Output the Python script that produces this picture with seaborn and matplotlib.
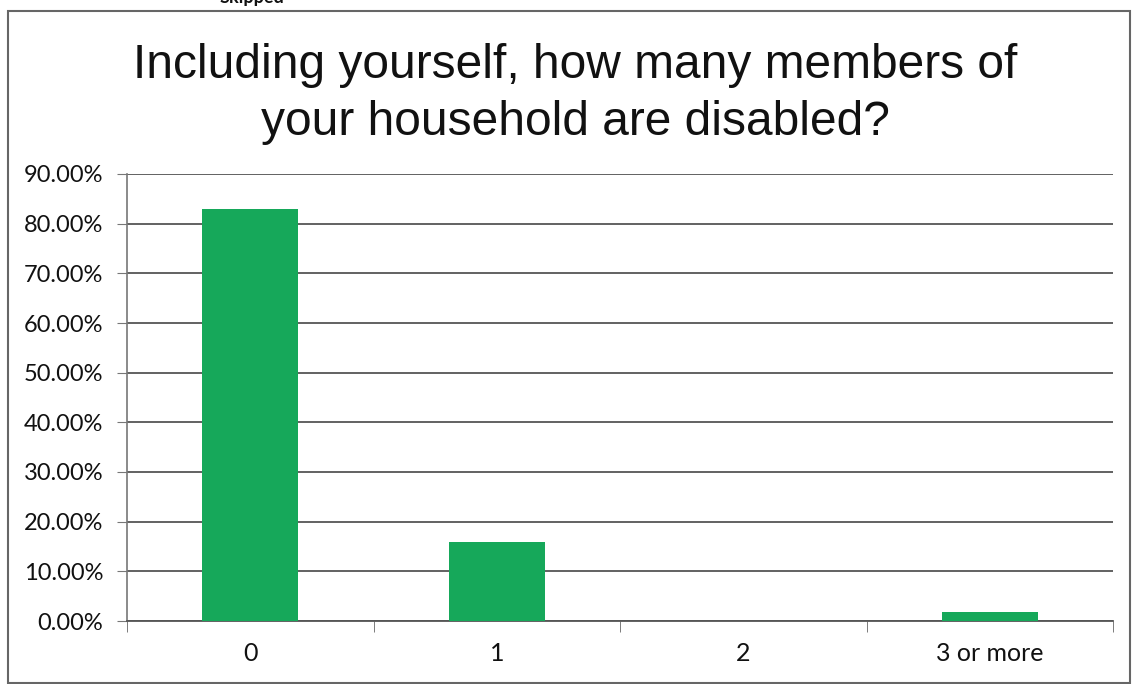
import matplotlib
matplotlib.use("Agg")
import matplotlib.pyplot as plt
import matplotlib.patches as mpatches
from matplotlib.ticker import FuncFormatter, FixedLocator
import seaborn as sns
import pandas as pd

sns.set_style("white")

kategorie = ["0", "1", "2", "3 or more"]
procenty = [82.9, 16.0, 0.0, 1.8]
tytul = "Including yourself, how many members of\nyour household are disabled?"
kolor = "#16a85a"

df = pd.DataFrame({"kategoria": kategorie, "procent": procenty})

fig = plt.figure(figsize=(11.32, 6.84), dpi=100)
ax = fig.add_axes([127 / 1132, 1 - 621 / 684, (1113 - 127) / 1132, (621 - 174) / 684])

sns.barplot(data=df, x="kategoria", y="procent", color=kolor, saturation=1,
            width=0.39, ax=ax, zorder=3, linewidth=0)

ax.set_ylim(0, 90)
ax.set_xlim(-0.5, 3.5)
ax.set_yticks(range(0, 91, 10))
ax.yaxis.set_major_formatter(FuncFormatter(lambda v, p: f"{v:.2f}%"))
ax.yaxis.grid(True, color="#555555", linewidth=1.3, zorder=0)
ax.set_axisbelow(True)
ax.set_xlabel("")
ax.set_ylabel("")

for s in ["top", "right"]:
    ax.spines[s].set_visible(False)
ax.spines["left"].set_color("#777777")
ax.spines["bottom"].set_color("#555555")
ax.spines["left"].set_linewidth(1.2)
ax.spines["bottom"].set_linewidth(1.3)

ax.tick_params(axis="y", which="major", direction="out", length=7, color="#777777",
               labelsize=17, pad=10, left=True)
ax.tick_params(axis="x", which="major", length=0, labelsize=18, pad=15)
ax.xaxis.set_minor_locator(FixedLocator([-0.5, 0.5, 1.5, 2.5, 3.5]))
ax.tick_params(axis="x", which="minor", direction="out", length=8, color="#666666", bottom=True)
for lab in ax.get_yticklabels() + ax.get_xticklabels():
    lab.set_fontfamily(["Lato", "DejaVu Sans"])
    lab.set_color("#111111")

fig.text(0.5 + 9 / 1132, 1 - 94 / 684, tytul, ha="center", va="center", fontsize=34.5,
         family=["Liberation Sans", "DejaVu Sans"], color="#111111", linespacing=1.35)

# ramka wykresu
fig.patches.append(mpatches.Rectangle((8 / 1132, 0.002), 1 - 10 / 1132, 1 - 12 / 684,
                                      transform=fig.transFigure, fill=False,
                                      edgecolor="#666666", linewidth=1.5))
# obcięty napis nad ramką
fig.text(220 / 1132, 1 + 3 / 684, "Skipped", ha="left", va="center", fontsize=13,
         fontweight="bold", family=["Lato", "DejaVu Sans"], color="#111111")

fig.savefig("out.png", dpi=100)
